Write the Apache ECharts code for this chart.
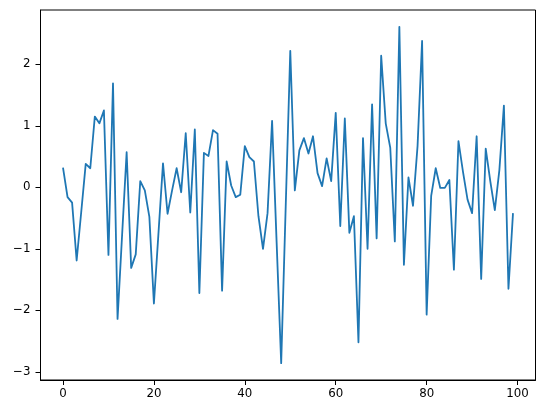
<!DOCTYPE html>
<html>
<head>
<meta charset="utf-8">
<script src="https://cdn.jsdelivr.net/npm/echarts@6/dist/echarts.min.js"></script>
<style>html,body{margin:0;padding:0;background:#fff}#c{width:546px;height:413px}</style>
</head>
<body>
<div id="c"></div>
<script>
const xIndex = Array.from({length: 100}, (_, i) => i);
const values = [
  0.32, -0.16, -0.25, -1.19, -0.41, 0.38, 0.31, 1.15, 1.04, 1.25,
  -1.10, 1.69, -2.14, -0.78, 0.57, -1.31, -1.09, 0.10, -0.05, -0.48,
  -1.89, -0.75, 0.39, -0.43, -0.05, 0.31, -0.08, 0.88, -0.41, 0.94,
  -1.72, 0.56, 0.51, 0.93, 0.87, -1.68, 0.42, 0.03, -0.16, -0.12,
  0.67, 0.49, 0.42, -0.47, -1.00, -0.42, 1.08, -0.90, -2.86, -0.30,
  2.22, -0.05, 0.60, 0.80, 0.55, 0.83, 0.23, 0.02, 0.47, 0.10,
  1.21, -0.63, 1.12, -0.74, -0.47, -2.52, 0.80, -1.00, 1.35, -0.83,
  2.14, 1.04, 0.64, -0.88, 2.61, -1.26, 0.16, -0.30, 0.67, 2.38,
  -2.07, -0.14, 0.31, -0.01, -0.01, 0.12, -1.34, 0.75, 0.25, -0.20,
  -0.42, 0.83, -1.49, 0.63, 0.10, -0.37, 0.28, 1.33, -1.65, -0.42
];
const xTicks = [0, 20, 40, 60, 80, 100];
const yTicks = [-3, -2, -1, 0, 1, 2];

const n = values.length;
const xMin = -0.05 * (n - 1), xMax = (n - 1) * 1.05;
const vMin = Math.min(...values), vMax = Math.max(...values);
const pad = 0.05 * (vMax - vMin);
const yMin = vMin - pad, yMax = vMax + pad;
const fmt = v => String(v).replace('-', '\u2212');

const chart = echarts.init(document.getElementById('c'), null, {renderer: 'canvas'});
chart.setOption({
  animation: false,
  grid: {left: 40.5, right: 10.5, top: 10, bottom: 33, show: true, borderColor: '#000', borderWidth: 1, backgroundColor: 'transparent'},
  xAxis: {
    type: 'value', min: xMin, max: xMax,
    axisLine: {show: true, onZero: false, lineStyle: {color: '#000', width: 1}},
    axisTick: {show: true, length: 5, customValues: xTicks, lineStyle: {color: '#000', width: 1}},
    axisLabel: {customValues: xTicks, color: '#000', fontFamily: 'DejaVu Sans', fontSize: 11.8, margin: 8, formatter: fmt},
    splitLine: {show: false}
  },
  yAxis: {
    type: 'value', min: yMin, max: yMax,
    axisLine: {show: true, onZero: false, lineStyle: {color: '#000', width: 1}},
    axisTick: {show: true, length: 5, customValues: yTicks, lineStyle: {color: '#000', width: 1}},
    axisLabel: {customValues: yTicks, color: '#000', fontFamily: 'DejaVu Sans', fontSize: 11.8, margin: 10, formatter: fmt},
    splitLine: {show: false}
  },
  series: [{
    type: 'line',
    data: xIndex.map((x, i) => [x, values[i]]),
    showSymbol: false,
    lineStyle: {color: '#1f77b4', width: 1.8, join: 'round', cap: 'butt'},
    itemStyle: {color: '#1f77b4'}
  }]
});
</script>
</body>
</html>
